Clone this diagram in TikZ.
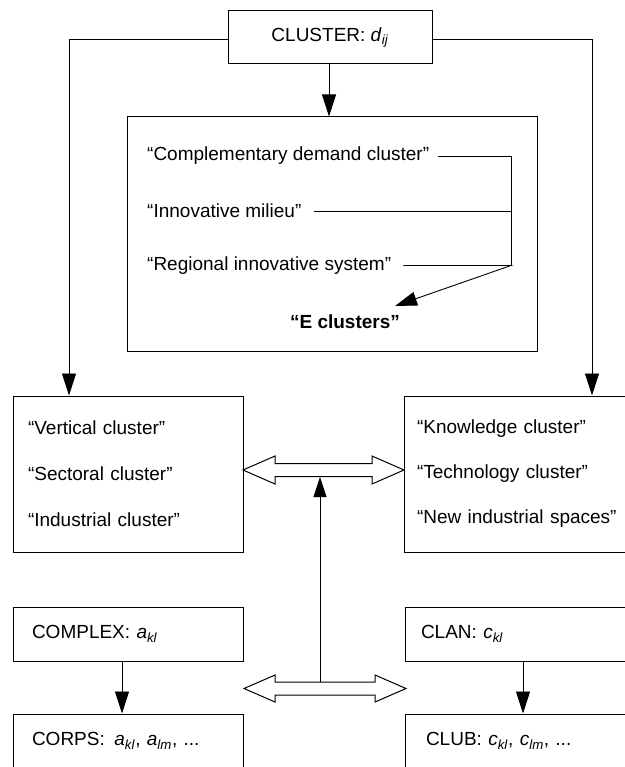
\documentclass[tikz,border=0pt]{standalone}
\usepackage{fontspec}
\setmainfont{Liberation Sans}
\usetikzlibrary{arrows.meta}
\newcommand{\varsub}[2]{\textit{#1}\textsubscript{\textit{#2}}}
\tikzset{
  box/.style={draw, line width=1pt, inner sep=0pt},
  tri/.style={line width=0.9pt, -{Triangle[length=22pt,width=14pt]}},
  conn/.style={line width=0.9pt},
  twoway/.style={draw, line width=1pt, line join=miter}
}

\begin{document}
\begin{tikzpicture}[x=1pt, y=-1pt, font=\fontsize{19}{23}\selectfont]
        \useasboundingbox (0,0) rectangle (624,767);

        \node (cluster) [box, minimum width=204pt, minimum height=53pt] at (330,37.5) {CLUSTER: \varsub{d}{ij}};
        \node (ebox) [box, minimum width=410pt, minimum height=234pt] at (332,234) {};

        \node (comp) [anchor=west, inner sep=0pt] at (147,156) {“Complementary demand cluster”};
        \node (innov) [anchor=west, inner sep=0pt] at (147,211) {“Innovative milieu”};
        \node (regio) [anchor=west, inner sep=0pt] at (147,265.5) {“Regional innovative system”};
        \node (ecl) [inner sep=0pt, font=\fontsize{19}{23}\selectfont\bfseries] at (345,322) {“E clusters”};

        \node (vert) [box, minimum width=230pt, minimum height=156pt, text width=200pt, inner xsep=15pt, align=left, font=\fontsize{19}{46}\selectfont] at (128,474) {“Vertical cluster”\\“Sectoral cluster”\\“Industrial cluster”};
        \node (know) [box, minimum width=230pt, minimum height=156pt, text width=204pt, inner xsep=13pt, align=left, font=\fontsize{19}{45}\selectfont] at (519,474) {“Knowledge cluster”\\“Technology cluster”\\“New industrial spaces”};

        \node (complex) [box, minimum width=230pt, minimum height=54pt, text width=192pt, inner xsep=19pt, align=left] at (128,634) {COMPLEX: \varsub{a}{kl}};
        \node (clan) [box, minimum width=230pt, minimum height=54pt, text width=198pt, inner xsep=16pt, align=left] at (520,634) {CLAN: \varsub{c}{kl}};
        \node (corps) [box, minimum width=230pt, minimum height=54pt, text width=192pt, inner xsep=19pt, align=left] at (128,741) {CORPS:\enspace\varsub{a}{kl}, \varsub{a}{lm}, ...};
        \node (club) [box, minimum width=230pt, minimum height=54pt, text width=188pt, inner xsep=21pt, align=left] at (520,741) {CLUB: \varsub{c}{kl}, \varsub{c}{lm}, ...};

        \coordinate (lrail) at (69,0);
        \coordinate (rrail) at (592,0);
        \coordinate (rail) at (511,0);
        \coordinate (etip) at (395,306);
        \coordinate (uplink) at (323.5,470);
        \coordinate (lowlink) at (325,688.5);
        \coordinate (upbot) at (320,477);
        \coordinate (lowtop) at (320,682);

        \draw[tri] ([xshift=-1pt]cluster.south) -- ([xshift=-1pt]ebox.north -| cluster.south);
        \draw[tri] ([yshift=-1.5pt]cluster.west) -| (vert.north -| lrail);
        \draw[tri] ([yshift=-1.5pt]cluster.east) -| (know.north -| rrail);

        \draw[conn] ([xshift=9pt]comp.east) -| (regio.east -| rail);
        \draw[conn] ([xshift=12pt]innov.east) -- (innov.east -| rail);
        \draw[tri] ([xshift=12pt]regio.east) -- (regio.east -| rail) -- (etip);

        \draw[twoway] (uplink) ++(-80.5,0) -- ++(32,-14) -- ++(0,7.5) -- ++(97,0) -- ++(0,-7.5) -- ++(32,14) -- ++(-32,14) -- ++(0,-7.5) -- ++(-97,0) -- ++(0,7.5) -- cycle;
        \draw[twoway] (lowlink) ++(-81,0) -- ++(31,-13.5) -- ++(0,7) -- ++(100,0) -- ++(0,-7) -- ++(31,13.5) -- ++(-31,13.5) -- ++(0,-7) -- ++(-100,0) -- ++(0,7) -- cycle;
        \draw[line width=0.9pt, -{Triangle[length=20pt,width=13pt]}] (lowtop) -- (upbot);

        \draw[tri] ([xshift=-6pt]complex.south) -- ([xshift=-6pt]corps.north);
        \draw[tri] ([xshift=3pt]clan.south) -- ([xshift=3pt]club.north);
    \end{tikzpicture}
\end{document}
